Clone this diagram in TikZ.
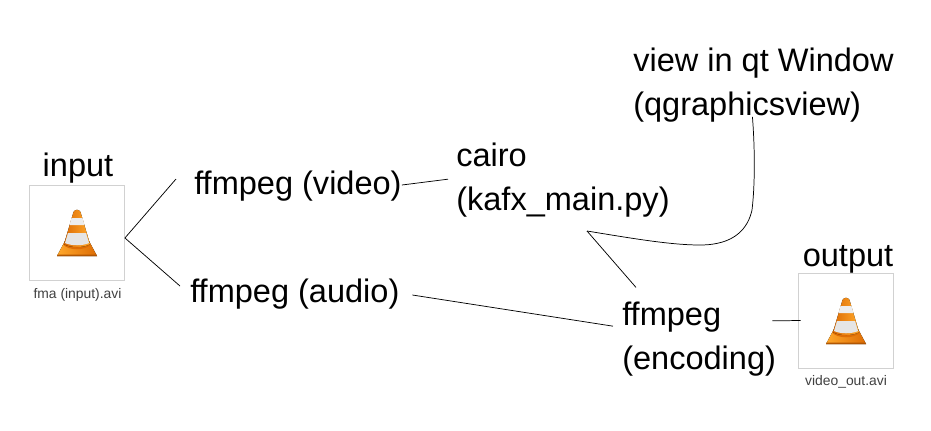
\documentclass[tikz,border=0pt]{standalone}
\usepackage{fontspec}
\setmainfont{Liberation Sans}
\usetikzlibrary{arrows.meta}
\definecolor{conedark}{HTML}{DD6C04}
\definecolor{conelight}{HTML}{FFA82C}
\tikzset{
	lbl/.style={inner sep=0pt,align=left,font=\fontsize{24.4}{33}\selectfont},
	filename/.style={inner sep=0pt,font=\fontsize{10.4}{12}\selectfont,text=black!75},
	thumb/.style={draw=black!18,minimum width=71.5pt,minimum height=71.5pt,inner sep=0pt},
	link/.style={draw=black,line width=0.55pt},
	vlccone/.pic={
		\fill[left color=conelight,right color=conedark] (-20,0) -- (20,0) -- (12,-15) -- (-12,-15) -- cycle;
		\fill[conedark!80!black] (-20,0) -- (20,0) -- (19.5,-1.5) -- (-19.5,-1.5) -- cycle;
		\fill[conedark] (-14,-12) .. controls (-10,-5) and (10,-5) .. (14,-12) -- cycle;
		\fill[left color=conedark,right color=conelight] (-3.5,-44) .. controls (-2,-47) and (2,-47) .. (3.5,-44) -- (13,-12) .. controls (8,-8) and (-8,-8) .. (-13,-12) -- cycle;
		\fill[black!7] (-5.5,-38) -- (5.5,-38) -- (7.5,-31) -- (-7.5,-31) -- cycle;
		\fill[black!10] (-9,-23) -- (9,-23) -- (12,-13) .. controls (6,-10) and (-6,-10) .. (-12,-13) -- cycle;
	}
}
\begin{document}
\begin{tikzpicture}[x=0.75pt,y=-0.75pt]
	\useasboundingbox (0,0) rectangle (931,430);
	% input side
	\node[thumb] (inbox) at (77,232.5) {};
	\node[lbl,anchor=base] (input) at (78,176) {input};
	\node[filename] (inname) at (77.5,295) {fma (input).avi};
	\pic at (77,256) {vlccone};
	% output side
	\node[thumb] (outbox) at (845.5,320.5) {};
	\node[lbl,anchor=base] (output) at (848,266) {output};
	\node[filename] (outname) at (846,382) {video\_out.avi};
	\pic at (846,344) {vlccone};
	% steps
	\node[lbl,anchor=base west] (fvideo) at (194,194) {ffmpeg (video)};
	\node[lbl,anchor=base west] (faudio) at (190,302) {ffmpeg (audio)};
	\node[lbl,anchor=west] (cairo) at (456,180.5) {cairo\\(kafx\_main.py)};
	\node[lbl,anchor=west] (qtview) at (633,85.5) {view in qt Window\\(qgraphicsview)};
	\node[lbl,anchor=west] (encode) at (622,339.5) {ffmpeg\\(encoding)};
	\coordinate (corner) at (587,231);
	\coordinate (bend) at (752,210);
	% links
	\draw[link] ([yshift=-4.1pt]inbox.east) -- ([xshift=-13.5pt,yshift=11.25pt]fvideo.base west);
	\draw[link] ([yshift=-4.1pt]inbox.east) -- ([xshift=-7.5pt,yshift=12pt]faudio.base west);
	\draw[link] ([xshift=0pt,yshift=6.75pt]fvideo.base east) -- ([xshift=-6pt,yshift=1pt]cairo.west);
	\draw[link] ([xshift=9.5pt,yshift=5.25pt]faudio.base east) -- ([xshift=-6.75pt,yshift=10pt]encode.west);
	\draw[link] ([xshift=-8.25pt,yshift=4.5pt]qtview.south) .. controls (755,150) and (755,185) .. (bend) .. controls (748,228) and (735,245) .. (700,245) .. controls (670,245) and (630,238) .. (corner);
	\draw[link] (corner) -- ([xshift=10.5pt,yshift=11pt]encode.north west);
	\draw[link] ([xshift=-3pt,yshift=14pt]encode.east) -- ([xshift=2.25pt]outbox.west);
\end{tikzpicture}
\end{document}
